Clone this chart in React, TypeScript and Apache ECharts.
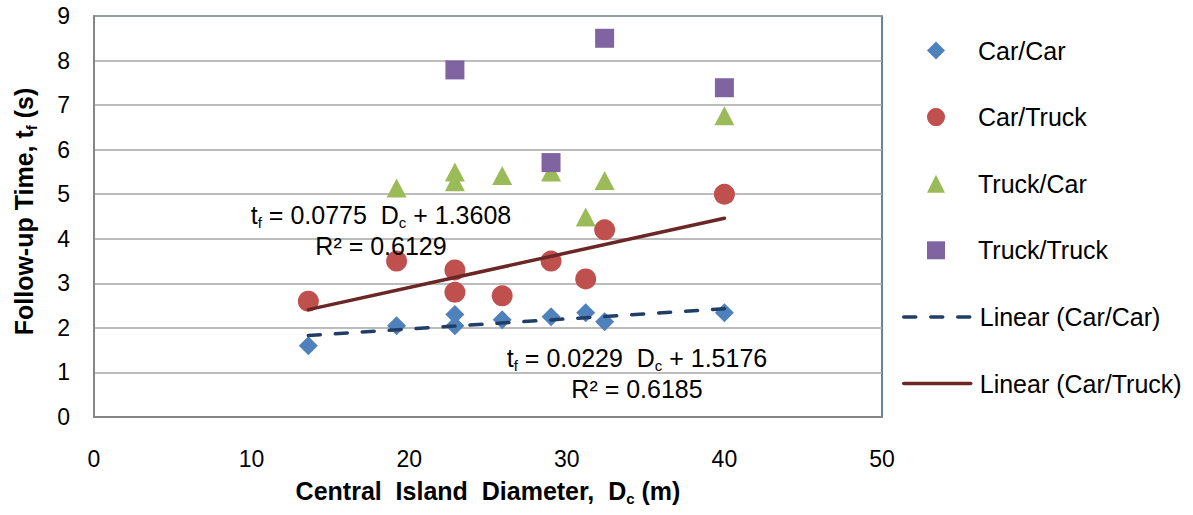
import React, { useEffect, useRef } from "react";
import * as echarts from "echarts";

// Data
const xValues = [13.6, 19.2, 22.9, 22.9, 25.9, 29, 31.2, 32.4, 40];
const carCar = [1.6, 2.05, 2.3, 2.05, 2.18, 2.25, 2.34, 2.14, 2.34];
const carTruck = [2.6, 3.5, 3.3, 2.8, 2.72, 3.5, 3.1, 4.2, 5.0];
const truckCarX = [19.2, 22.9, 22.9, 25.9, 29, 31.2, 32.4, 40];
const truckCar = [5.14, 5.5, 5.28, 5.42, 5.5, 4.49, 5.31, 6.76];
const truckTruckX = [22.9, 29, 32.4, 40];
const truckTruck = [7.79, 5.71, 8.5, 7.39];
const trendX = [13.6, 40];
const trendCarCar = [1.83, 2.43];
const trendCarTruck = [2.41, 4.46];
const seriesNames = [
  "Car/Car",
  "Car/Truck",
  "Truck/Car",
  "Truck/Truck",
  "Linear (Car/Car)",
  "Linear (Car/Truck)",
];
const eqCarTruck = ["0.0775", "1.3608", "0.6129"];
const eqCarCar = ["0.0229", "1.5176", "0.6185"];

const FONT = "'Liberation Sans', Arial, sans-serif";

const zip = (xs: number[], ys: number[]) => xs.map((x, i) => [x, ys[i]]);

const dashStyle = { color: "#213f66", width: 3.5, type: [12, 15], cap: "round", opacity: 1 };
const solidStyle = { color: "#6b2626", width: 3.5, type: "solid", cap: "round", opacity: 1 };

const richMain = {
  a: { fontSize: 25, fontFamily: FONT, color: "#000", lineHeight: 30 },
  b: { fontSize: 15, fontFamily: FONT, color: "#000", verticalAlign: "bottom", lineHeight: 15 },
};

function eqText(x: number, y: number, eq: string[]) {
  return [
    {
      type: "text",
      x,
      y,
      z: 100,
      style: {
        text: `{a|t}{b|f}{a| = ${eq[0]}  D}{b|c}{a| + ${eq[1]}}`,
        rich: richMain,
        align: "center",
        verticalAlign: "middle",
      },
    },
    {
      type: "text",
      x,
      y: y + 31,
      z: 100,
      style: {
        text: `R² = ${eq[2]}`,
        fontSize: 25,
        fontFamily: FONT,
        fill: "#000",
        align: "center",
        verticalAlign: "middle",
      },
    },
  ];
}

const titleRich = {
  m: { fontSize: 25, fontWeight: "bold", fontFamily: FONT, color: "#000", lineHeight: 30 },
  s: { fontSize: 15, fontWeight: "bold", fontFamily: FONT, color: "#000", verticalAlign: "bottom", lineHeight: 15 },
};

const legendText = { fontSize: 25, fontFamily: FONT, color: "#000" };

export default function App() {
  const ref = useRef<HTMLDivElement>(null);
  useEffect(() => {
    if (!ref.current) return;
    const chart = echarts.init(ref.current, undefined, { renderer: "svg" });
    const option: any = {
      animation: false,
      backgroundColor: "#fff",
      grid: {
        left: 94,
        top: 16,
        right: 311,
        bottom: 98,
        show: true,
        borderColor: "#3a5a85",
        borderWidth: 1.5,
        backgroundColor: "transparent",
      },
      xAxis: {
        type: "value",
        min: 0,
        max: 50,
        interval: 10,
        name: "{m|Central  Island  Diameter,  D}{s|c}{m| (m)}",
        nameLocation: "middle",
        nameGap: 59,
        nameTextStyle: { rich: titleRich },
        axisLine: { show: true, onZero: false, lineStyle: { color: "#868686", width: 2 } },
        axisTick: { show: false },
        splitLine: { show: false },
        axisLabel: { fontSize: 23, fontFamily: FONT, color: "#000", margin: 30 },
      },
      yAxis: {
        type: "value",
        min: 0,
        max: 9,
        interval: 1,
        name: "{m|Follow-up Time, t}{s|f}{m| (s)}",
        nameLocation: "middle",
        nameGap: 55,
        nameTextStyle: { rich: titleRich, padding: [0, 0, 0, 10] },
        axisLine: { show: true, onZero: false, lineStyle: { color: "#868686", width: 2 } },
        axisTick: { show: false },
        splitLine: { show: true, lineStyle: { color: "#a6a6a6", width: 1.5 } },
        axisLabel: { fontSize: 23, fontFamily: FONT, color: "#000", margin: 24 },
      },
      legend: [
        {
          orient: "vertical",
          left: 922,
          top: 33,
          itemWidth: 18,
          itemHeight: 18,
          itemGap: 41.6,
          data: seriesNames.slice(0, 4),
          textStyle: { ...legendText, padding: [0, 0, 0, 28] },
        },
        {
          orient: "vertical",
          left: 897,
          top: 33 + 4 * 66.6,
          itemWidth: 67,
          itemHeight: 18,
          itemGap: 41.6,
          data: [
            { name: seriesNames[4], lineStyle: dashStyle },
            { name: seriesNames[5], lineStyle: solidStyle },
          ],
          textStyle: { ...legendText, padding: [0, 0, 0, 4] },
        },
      ],
      graphic: [...eqText(381, 215, eqCarTruck), ...eqText(637, 358, eqCarCar)],
      series: [
        {
          name: seriesNames[0],
          type: "scatter",
          symbol: "diamond",
          symbolSize: 19,
          itemStyle: { color: "#4f81bd", opacity: 1 },
          data: zip(xValues, carCar),
        },
        {
          name: seriesNames[1],
          type: "scatter",
          symbol: "circle",
          symbolSize: 21,
          itemStyle: { color: "#c0504d", opacity: 1 },
          data: zip(xValues, carTruck),
        },
        {
          name: seriesNames[2],
          type: "scatter",
          symbol: "triangle",
          symbolSize: [20, 19],
          itemStyle: { color: "#9bbb59", opacity: 1 },
          data: zip(truckCarX, truckCar),
        },
        {
          name: seriesNames[3],
          type: "scatter",
          symbol: "rect",
          symbolSize: 19,
          itemStyle: { color: "#8064a2", opacity: 1 },
          data: zip(truckTruckX, truckTruck),
        },
        {
          name: seriesNames[4],
          type: "line",
          symbol: "none",
          showSymbol: false,
          itemStyle: { color: "#213f66", opacity: 0 },
          lineStyle: dashStyle,
          data: zip(trendX, trendCarCar),
        },
        {
          name: seriesNames[5],
          type: "line",
          symbol: "none",
          showSymbol: false,
          itemStyle: { color: "#6b2626", opacity: 0 },
          lineStyle: solidStyle,
          data: zip(trendX, trendCarTruck),
        },
      ],
    };
    chart.setOption(option);
    return () => chart.dispose();
  }, []);
  return <div ref={ref} style={{ width: 1193, height: 515, position: "absolute", left: 0, top: 0 }} />;
}
